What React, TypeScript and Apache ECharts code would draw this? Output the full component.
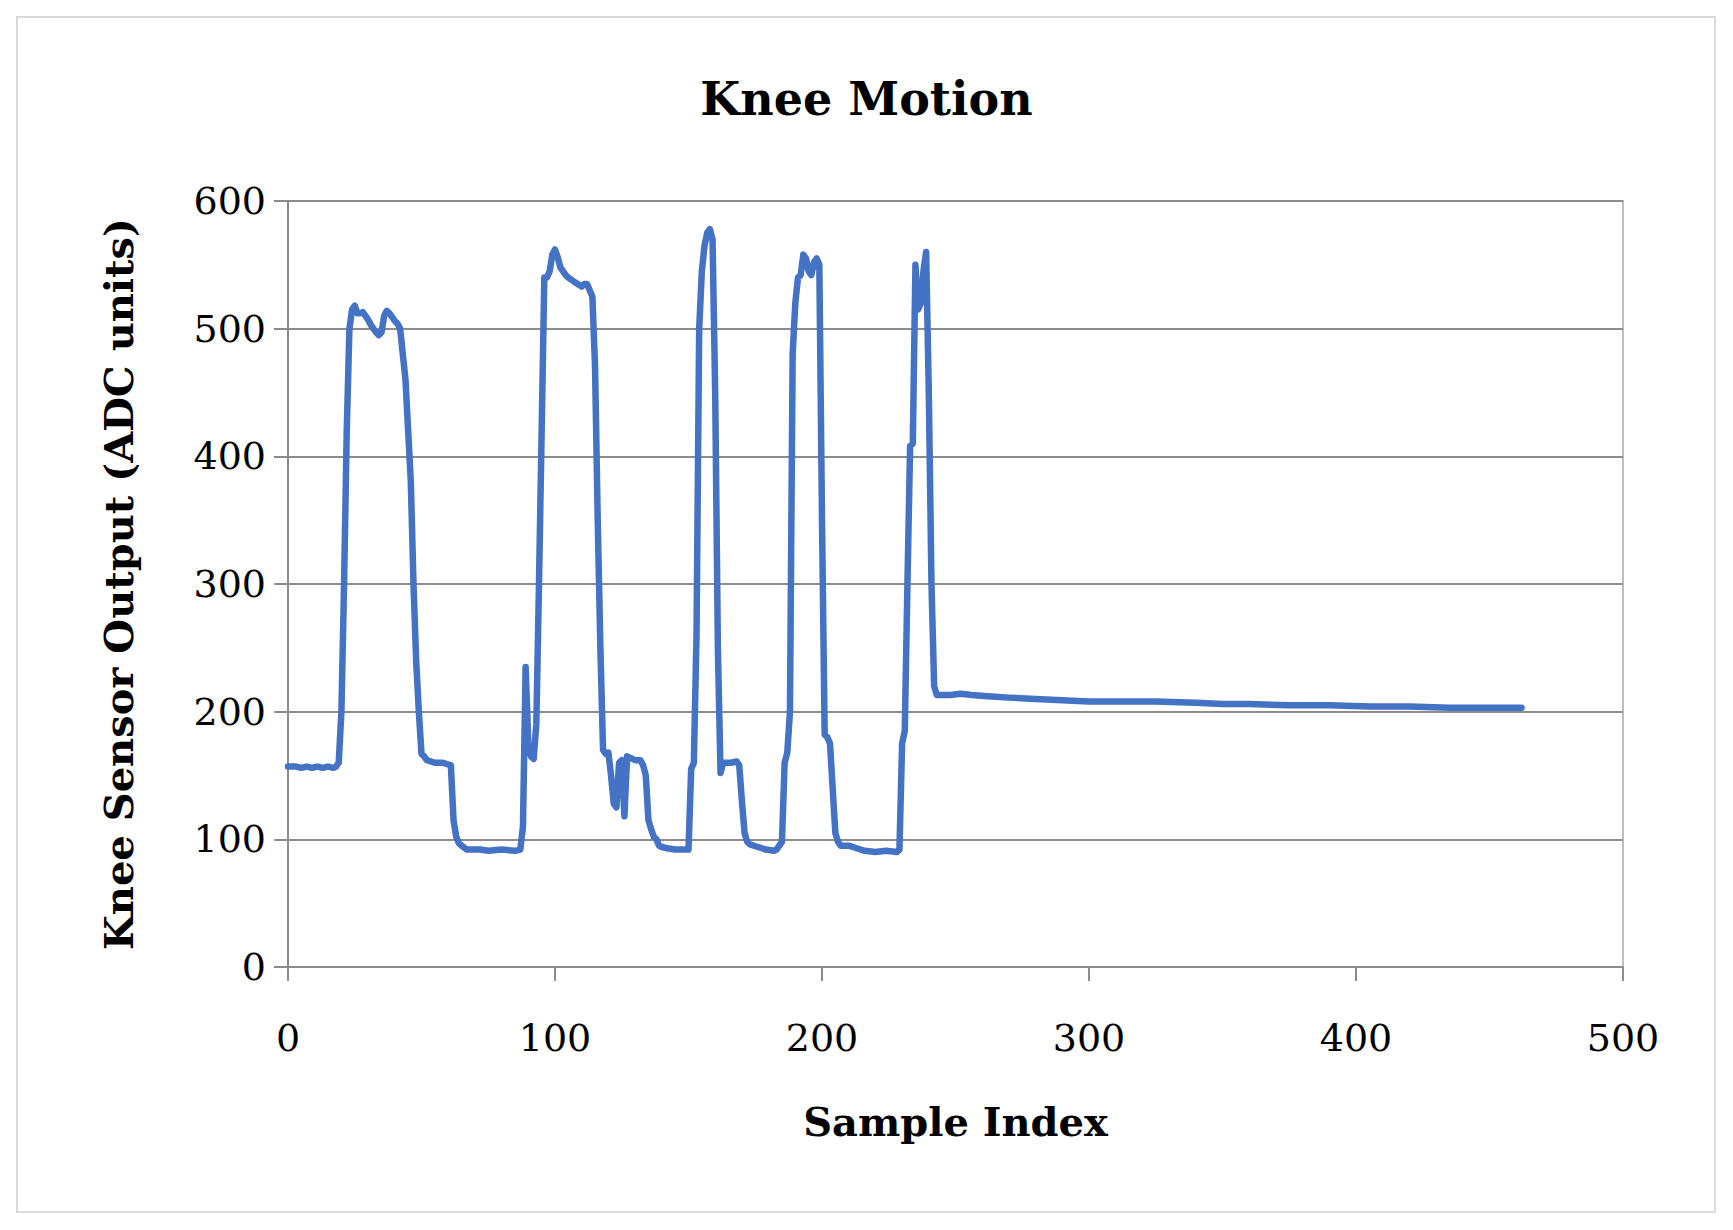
import React, { useEffect, useRef } from 'react';
import * as echarts from 'echarts';

// Sample index / sensor value pairs
const riseOne = [
  [0, 157], [3, 157], [5, 156], [7, 157], [9, 156], [11, 157], [13, 156], [15, 157], [17, 156], [18, 157],
  [19, 160], [20, 200], [21, 300], [22, 420], [23, 500], [24, 515], [25, 518], [26, 512], [27, 512], [28, 513],
  [29, 510], [30, 507], [31, 503], [32, 500], [33, 497], [34, 495], [35, 497], [36, 510], [37, 514], [38, 512],
  [39, 509], [40, 506], [41, 504], [42, 500], [43, 480], [44, 460], [45, 420], [46, 380], [47, 300], [48, 240],
  [49, 200], [50, 167], [51, 165], [52, 162], [55, 160], [58, 160], [61, 158], [62, 115], [63, 102], [64, 97],
  [65, 95], [67, 92], [72, 92], [75, 91], [80, 92], [85, 91], [87, 92]
];
const riseTwo = [
  [88, 110], [89, 235], [90, 175], [91, 165], [92, 163], [93, 190], [94, 300], [95, 420], [96, 540], [97, 540],
  [98, 545], [99, 558], [100, 562], [101, 556], [102, 548], [103, 545], [104, 542], [105, 540], [107, 537],
  [110, 533], [111, 535], [112, 535], [113, 530], [114, 525], [115, 470], [116, 350], [117, 250], [118, 170],
  [119, 167], [120, 168], [121, 150], [122, 128], [123, 125], [124, 160], [125, 162], [126, 118], [127, 165],
  [130, 162], [132, 162], [133, 158], [134, 150], [135, 115], [136, 108], [137, 102], [138, 100], [139, 95],
  [140, 94], [142, 93], [145, 92], [150, 92]
];
const riseThree = [
  [151, 155], [152, 160], [153, 260], [154, 500], [155, 545], [156, 565], [157, 575], [158, 578], [159, 570],
  [160, 450], [161, 250], [162, 152], [163, 160], [166, 160], [168, 161], [169, 158], [170, 130], [171, 105],
  [172, 98], [173, 96], [176, 94], [179, 92], [182, 91], [183, 92], [184, 95], [185, 98]
];
const riseFour = [
  [186, 160], [187, 168], [188, 200], [189, 480], [190, 520], [191, 540], [192, 542], [193, 558], [194, 555],
  [195, 545], [196, 542], [197, 552], [198, 555], [199, 550], [200, 350], [201, 182], [202, 180], [203, 175],
  [204, 140], [205, 105], [206, 98], [207, 95], [210, 95], [213, 93], [216, 91], [220, 90], [224, 91], [228, 90],
  [229, 92]
];
const riseFive = [
  [230, 175], [231, 185], [232, 300], [233, 408], [234, 410], [235, 550], [236, 515], [237, 520], [238, 545],
  [239, 560], [240, 450], [241, 300], [242, 220], [243, 213], [244, 213]
];
const tail = [
  [248, 213], [252, 214], [256, 213], [262, 212], [270, 211], [280, 210], [290, 209], [300, 208], [310, 208],
  [325, 208], [340, 207], [350, 206], [360, 206], [375, 205], [390, 205], [405, 204], [420, 204], [435, 203],
  [450, 203], [462, 203]
];
const sensorData = [...riseOne, ...riseTwo, ...riseThree, ...riseFour, ...riseFive, ...tail];

const serif = '"DejaVu Serif", "Liberation Serif", serif';

const App: React.FC = () => {
  const chartRef = useRef<HTMLDivElement>(null);

  useEffect(() => {
    document.body.style.margin = '0';
    if (!chartRef.current) return;
    const chart = echarts.init(chartRef.current, null, { renderer: 'svg' });

    chart.setOption({
      animation: false,
      backgroundColor: '#ffffff',
      title: {
        text: 'Knee Motion',
        left: 'center',
        top: 71,
        textStyle: { fontFamily: serif, fontSize: 46, fontWeight: 'bold', color: '#000' }
      },
      graphic: [
        {
          type: 'rect',
          shape: { x: 17, y: 17, width: 1698, height: 1195 },
          style: { fill: 'none', stroke: '#d9d9d9', lineWidth: 2 }
        }
      ],
      grid: {
        left: 288, right: 110, top: 201, bottom: 263,
        show: true, borderColor: '#c0c0c0', borderWidth: 2
      },
      xAxis: {
        type: 'value',
        min: 0, max: 500, interval: 100,
        name: 'Sample Index',
        nameLocation: 'middle',
        nameGap: 134,
        nameTextStyle: { fontFamily: serif, fontSize: 40, fontWeight: 'bold', color: '#000' },
        axisLine: { show: true, lineStyle: { color: '#8c8c8c', width: 2 } },
        axisTick: { show: true, length: 14, lineStyle: { color: '#8c8c8c', width: 2 } },
        axisLabel: { fontFamily: serif, fontSize: 38, color: '#000', margin: 52 },
        splitLine: { show: false }
      },
      yAxis: {
        type: 'value',
        min: 0, max: 600, interval: 100,
        name: 'Knee Sensor Output (ADC units)',
        nameLocation: 'middle',
        nameGap: 150,
        nameTextStyle: { fontFamily: serif, fontSize: 40, fontWeight: 'bold', color: '#000' },
        axisLine: { show: true, lineStyle: { color: '#8c8c8c', width: 2 } },
        axisTick: { show: true, length: 14, lineStyle: { color: '#8c8c8c', width: 2 } },
        axisLabel: { fontFamily: serif, fontSize: 38, color: '#000', margin: 22 },
        splitLine: { show: true, lineStyle: { color: '#8c8c8c', width: 2 } }
      },
      series: [
        {
          type: 'line',
          data: sensorData,
          showSymbol: false,
          lineStyle: { color: '#4472c4', width: 6.5, join: 'round', cap: 'round' },
          itemStyle: { color: '#4472c4' }
        }
      ]
    });

    return () => chart.dispose();
  }, []);

  return <div ref={chartRef} style={{ width: 1733, height: 1230 }} />;
};

export default App;
